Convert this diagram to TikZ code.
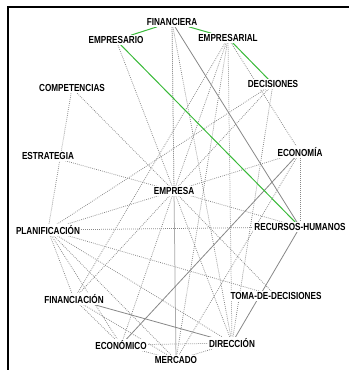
\documentclass[tikz,border=0pt]{standalone}
\usepackage{fontspec}
\setmainfont{Liberation Sans}[FakeStretch=0.8]
\usetikzlibrary{backgrounds}
\definecolor{verdearista}{RGB}{56,185,56}
\definecolor{grisarista}{RGB}{135,135,135}
\tikzset{
  palabra/.style={fill=white, inner sep=1pt, font=\fontsize{10.2}{12}\selectfont\bfseries},
  debil/.style={draw=grisarista, dash pattern=on 0.8pt off 1.2pt, line width=0.75pt},
  fuerte/.style={draw=grisarista, line width=0.8pt},
  verde/.style={draw=verdearista, line width=1pt}
}

\begin{document}
\begin{tikzpicture}[x=1pt,y=-1pt]
    \useasboundingbox (0,0) rectangle (349,370);
    \draw[line width=1.2pt] (8,370) -- (8,7) -- (349,7);
    % palabras
    \node[palabra] (fin)     at (172,22)  {FINANCIERA};
    \node[palabra] (empario) at (116,40)  {EMPRESARIO};
    \node[palabra] (empial)  at (228,38)  {EMPRESARIAL};
    \node[palabra] (comp)    at (72,88)   {COMPETENCIAS};
    \node[palabra] (dec)     at (273,84)  {DECISIONES};
    \node[palabra] (estr)    at (48,156)  {ESTRATEGIA};
    \node[palabra] (econa)   at (300,152) {ECONOMÍA};
    \node[palabra] (empresa) at (174,191) {EMPRESA};
    \node[palabra] (plan)    at (48,230)  {PLANIFICACIÓN};
    \node[palabra] (rrhh)    at (300,227) {RECURSOS-HUMANOS};
    \node[palabra] (finc)    at (74,299)  {FINANCIACIÓN};
    \node[palabra] (toma)    at (276,296) {TOMA-DE-DECISIONES};
    \node[palabra] (econo)   at (121,345) {ECONÓMICO};
    \node[palabra] (dir)     at (232,343) {DIRECCIÓN};
    \node[palabra] (merc)    at (176,360) {MERCADO};
    % aristas
    \begin{scope}[on background layer]
        \foreach \b in {comp,empario,fin,empial,dec,estr,econa,rrhh,plan,finc,econo,merc,dir,toma}
            \draw[debil] (empresa) -- (\b);
        \foreach \b in {comp,dec,rrhh,finc,econo,merc,dir,toma}
            \draw[debil] (plan) -- (\b);
        \foreach \a/\b in {fin/merc,fin/dir,empial/finc,empial/merc,empial/dir,empial/econa,
                           econa/merc,econa/rrhh,dec/dir,finc/econo,finc/merc,econo/dir,
                           econo/merc,merc/dir}
            \draw[debil] (\a) -- (\b);
        \foreach \a/\b in {fin/rrhh,econa/econo,rrhh/dir,finc/dir}
            \draw[fuerte] (\a) -- (\b);
        \foreach \a/\b in {fin/empario,fin/empial,empial/dec,empario/rrhh}
            \draw[verde] (\a) -- (\b);
    \end{scope}
\end{tikzpicture}
\end{document}
